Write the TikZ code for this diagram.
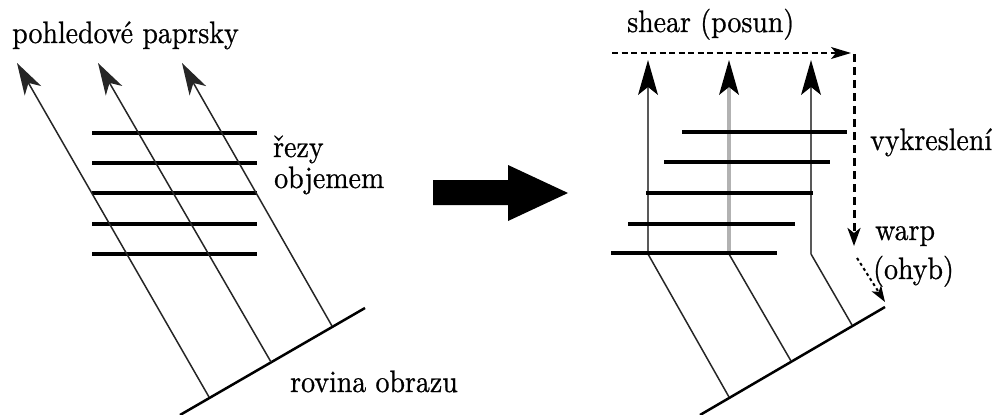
\documentclass[tikz,border=0pt]{standalone}
\usepackage{fontspec}
\newfontfamily\labelfont{lmroman10-regular.otf}[FakeBold=0.7,FakeStretch=0.9]
\usetikzlibrary{arrows.meta}
\tikzset{
  lbl/.style={anchor=base west, inner sep=0pt, font=\labelfont\fontsize{31}{36}\selectfont},
  ray/.style={line width=1.5pt, black!85},
  raytip/.style={-{Stealth[length=32pt,width=19pt,inset=9pt]}},
  slice/.style={line width=3.5pt, line cap=butt},
  plane/.style={line width=2.5pt},
  vray/.style={line width=2.5pt, black!65},
  vraylight/.style={line width=4pt, black!30},
  shearline/.style={line width=1.6pt, dash pattern=on 6pt off 3.5pt, -{Stealth[length=20pt,width=12pt,inset=5pt]}},
  drawline/.style={line width=3pt, dash pattern=on 8pt off 5pt, -{Stealth[length=18pt,width=13pt,inset=5pt]}},
  warpline/.style={line width=2pt, dash pattern=on 3pt off 3pt, -{Stealth[length=16pt,width=11pt,inset=4pt]}}
}
\begin{document}
\begin{tikzpicture}[x=1pt,y=-1pt]
\useasboundingbox (0,0) rectangle (996,415);

% ---------- left panel: view rays crossing the slices ----------
\coordinate (pA) at (180,415);
\coordinate (pB) at (365,308);
\draw[plane] (pA) -- (pB);

\coordinate (b1) at (209,397);
\coordinate (b2) at (271,362);
\coordinate (b3) at (332,326);
\coordinate (t1) at (17,63);
\coordinate (t2) at (98,63);
\coordinate (t3) at (182,63);

\foreach \y in {133,163,193,224,254}{
  \draw[slice] (92,\y) -- (257,\y);
}
\draw[ray,raytip] (b1) -- (t1);
\draw[ray,raytip] (b2) -- (t2);
\draw[ray,raytip] (b3) -- (t3);

\node[lbl] (rays) at (12,43) {pohledové paprsky};
\node[lbl] (slices1) at (273,157) {řezy};
\node[lbl] (slices2) at (274,188) {objemem};
\node[lbl] (image) at (290,392) {rovina obrazu};

% ---------- big transition arrow ----------
\fill (433,180) -- (508,180) -- (508,165) -- (568,193) -- (508,221) -- (508,205) -- (433,205) -- cycle;

% ---------- right panel: sheared slices, warp ----------
\coordinate (qA) at (700,415);
\coordinate (qB) at (885,307);
\draw[plane] (qA) -- (qB);

\coordinate (c1) at (729,397);
\coordinate (c2) at (791,361);
\coordinate (c3) at (852,325);
\coordinate (k1) at (648,254);
\coordinate (k2) at (729,254);
\coordinate (k3) at (811,254);
\coordinate (u1) at (648,60);
\coordinate (u2) at (729,60);
\coordinate (u3) at (811,60);

\draw[ray] (c1) -- (k1);
\draw[ray] (c2) -- (k2);
\draw[ray] (c3) -- (k3);
\draw[vray] (k1) -- (u1 |- 0,80);
\draw[vraylight] (k2) -- (u2 |- 0,80);
\draw[vray] (k3) -- (u3 |- 0,80);
\foreach \u in {u1,u2,u3}{
  \fill (\u) -- ++(10,35) -- ++(-10,-8) -- ++(-10,8) -- cycle;
}

\draw[slice] (682,132) -- (847,132);
\draw[slice] (664,162) -- (830,162);
\draw[slice] (646,193) -- (813,193);
\draw[slice] (628,224) -- (795,224);
\draw[slice] (611,253) -- (777,253);

\coordinate (s0) at (612,53);
\coordinate (s1) at (851,53);
\coordinate (s2) at (854,54);
\coordinate (s3) at (854,246);
\coordinate (w0) at (857,258);
\coordinate (w1) at (885,302);
\draw[shearline] (s0) -- (s1);
\draw[drawline] (s2) -- (s3);
\draw[warpline] (w0) -- (w1);

\node[lbl] (shear) at (627,32) {shear (posun)};
\node[lbl] (render) at (870,150) {vykreslení};
\node[lbl] (warp) at (875,240) {warp};
\node[lbl] (warp2) at (873,279) {(ohyb)};
\end{tikzpicture}
\end{document}
